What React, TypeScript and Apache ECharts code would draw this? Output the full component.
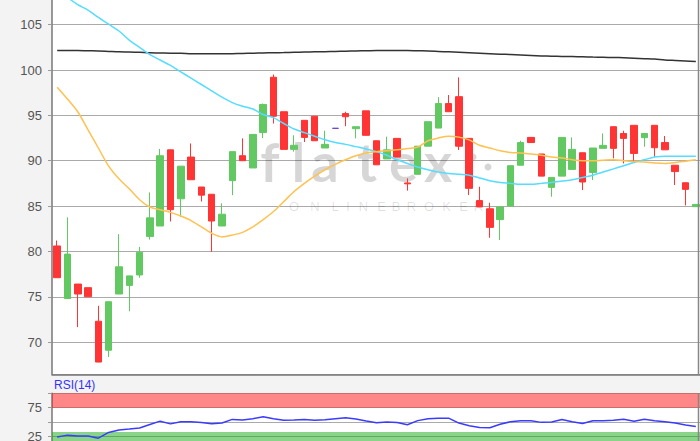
import React, { useEffect, useRef } from 'react';
import * as echarts from 'echarts';

const categories = [
  '1','2','3','4','5','6','7','8','9','10','11','12','13','14','15','16','17','18','19','20','21',
  '22','23','24','25','26','27','28','29','30','31','32','33','34','35','36','37','38','39','40','41','42',
  '43','44','45','46','47','48','49','50','51','52','53','54','55','56','57','58','59','60','61','62','63',
];

const opens = [
  80.6, 74.8, 76.4, 76.0, 72.3, 69.1, 75.3, 76.25, 77.4, 81.65, 82.8, 91.2, 85.8, 90.4, 87.1, 86.3,
  82.8, 87.8, 90.55, 89.2, 93.1, 99.2, 95.4, 91.25, 94.45, 94.9, 91.4, 93.57, 95.2, 93.53, 95.5, 92.2,
  90.2, 92.46, 87.55, 88.5, 91.6, 93.6, 96.3, 97.06, 92.46, 85.6, 84.7, 83.5, 85.0, 89.5, 92.57, 90.74,
  87.06, 88.3, 89.04, 90.88, 88.7, 91.36, 93.75, 93.0, 93.9, 92.54, 93.9, 92.0, 89.5, 87.57, 84.93,
];
const closes = [
  77.1, 79.7, 75.3, 75.0, 67.8, 74.45, 78.3, 77.3, 79.9, 83.7, 90.55, 84.6, 89.4, 87.9, 86.2, 83.35,
  84.1, 91.0, 90.0, 92.9, 96.2, 94.9, 91.25, 91.7, 92.57, 92.2, 91.8, 93.57, 94.85, 93.75, 92.8, 89.55,
  91.2, 90.4, 87.45, 91.6, 94.3, 96.3, 95.4, 91.6, 86.95, 84.9, 82.65, 84.9, 89.45, 92.0, 92.0, 88.3,
  88.16, 92.57, 91.25, 87.65, 91.4, 91.69, 91.36, 92.46, 90.8, 93.0, 91.43, 91.2, 88.8, 86.84, 85.18,
];
const lows = [
  77.1, 74.8, 71.65, 75.0, 67.8, 68.35, 75.3, 73.4, 77.1, 81.3, 82.8, 83.3, 83.8, 87.9, 85.5, 79.96,
  82.8, 86.2, 90.0, 89.2, 92.5, 94.1, 91.25, 91.0, 92.06, 92.2, 91.4, 93.57, 93.8, 92.46, 92.8, 89.55,
  90.2, 90.4, 86.7, 88.5, 91.6, 93.6, 95.4, 91.18, 86.21, 84.9, 81.5, 81.25, 85.0, 89.5, 92.0, 88.3,
  86.03, 88.3, 89.04, 86.76, 87.87, 91.36, 90.26, 89.7, 89.9, 91.54, 90.44, 91.2, 87.32, 85.07, 84.93,
];
const highs = [
  81.2, 83.75, 76.4, 76.0, 74.0, 74.45, 81.9, 77.3, 80.5, 86.5, 91.3, 91.2, 89.4, 91.9, 87.1, 86.3,
  85.3, 91.0, 92.46, 92.9, 96.3, 99.5, 95.4, 92.8, 94.45, 94.9, 93.3, 93.57, 95.4, 93.75, 95.5, 92.2,
  92.65, 92.46, 88.05, 91.6, 94.3, 97.0, 97.24, 99.19, 92.46, 87.13, 85.37, 84.9, 89.45, 92.2, 92.57, 90.74,
  88.16, 92.57, 92.57, 90.88, 91.4, 93.0, 93.75, 93.3, 93.9, 93.0, 93.9, 92.72, 89.5, 87.57, 85.18,
];

// moving averages
const ma20 = [
  98.1, 96.8, 95.4, 93.4, 91.4, 89.4, 88.0, 86.9, 85.7, 84.9, 84.6, 84.3, 83.9, 83.4, 82.7, 82.0,
  81.6, 81.8, 82.1, 82.7, 83.5, 84.4, 85.5, 86.6, 87.5, 88.3, 89.0, 89.6, 90.1, 90.55, 90.85, 91.0,
  91.1, 91.2, 91.35, 91.5, 92.2, 92.5, 92.7, 92.6, 92.3, 91.7, 91.4, 91.1, 90.9, 90.85, 90.75, 90.6,
  90.4, 90.3, 90.1, 90.0, 90.0, 90.05, 90.1, 90.0, 89.9, 89.85, 89.75, 89.7, 89.8, 89.95, 90.1,
];
const ma50 = [
  108.8, 108.0, 107.2, 106.6, 105.8, 105.05, 104.3, 103.3, 102.5, 101.7, 101.1, 100.5, 99.8, 99.1, 98.4, 97.7,
  97.0, 96.4, 96.0, 95.7, 95.1, 94.75, 94.1, 93.5, 93.1, 92.7, 92.3, 92.0, 91.8, 91.55, 91.3, 91.0,
  90.6, 90.1, 89.7, 89.3, 89.0, 88.75, 88.6, 88.5, 88.4, 88.1, 87.8, 87.6, 87.5, 87.4, 87.4, 87.5,
  87.6, 87.75, 87.9, 88.15, 88.4, 88.75, 89.1, 89.45, 89.8, 90.1, 90.4, 90.5, 90.5, 90.5, 90.5,
];
const ma200 = [
  102.15, 102.15, 102.15, 102.12, 102.1, 102.05, 102.0, 101.98, 101.95, 101.9, 101.88, 101.85, 101.85, 101.8, 101.8, 101.78,
  101.78, 101.8, 101.82, 101.85, 101.88, 101.9, 101.92, 101.95, 101.98, 102.0, 102.02, 102.05, 102.08, 102.1, 102.12, 102.15,
  102.15, 102.15, 102.15, 102.12, 102.1, 102.05, 102.0, 101.95, 101.9, 101.85, 101.8, 101.75, 101.7, 101.65, 101.6, 101.55,
  101.52, 101.5, 101.48, 101.45, 101.42, 101.4, 101.38, 101.35, 101.3, 101.25, 101.2, 101.1, 101.05, 101.0, 100.95,
];
const rsi14 = [
  24.4, 27.7, 26.3, 26.3, 22.5, 32.3, 36.7, 38.1, 40.0, 46.1, 51.8, 47.1, 50.9, 50.9, 49.6, 47.5,
  48.5, 54.8, 53.7, 56.1, 59.4, 56.1, 53.3, 53.7, 54.6, 53.3, 54.2, 56.1, 57.7, 55.6, 52.1, 49.2,
  50.4, 49.4, 45.7, 52.7, 55.8, 56.7, 57.0, 48.5, 43.8, 40.9, 40.5, 46.6, 50.7, 52.7, 52.3, 49.7,
  50.4, 54.6, 50.9, 47.6, 52.6, 52.6, 53.5, 55.0, 51.8, 55.1, 52.5, 50.7, 48.5, 45.2, 42.4,
];

const priceTicks = [70, 75, 80, 85, 90, 95, 100, 105];
const rsiTicks = [25, 75];
const rsiOverbought = [75, 100];
const rsiOversold = [0, 33];

const GREEN = '#62c962';
const RED = '#ff3434';
const WM = 'rgba(0,0,0,0.16)';
const WM2 = 'rgba(0,0,0,0.12)';

export default function App() {
  const ref = useRef<HTMLDivElement>(null);
  useEffect(() => {
    const chart = echarts.init(ref.current!, null, { renderer: 'svg' });
    const candles = opens.map((o, i) => [o, closes[i], lows[i], highs[i]]);
    const wmBig = [
      ['f', 270], ['l', 298.5], ['a', 325], ['t', 367], ['e', 403.5], ['x', 438],
    ];
    const wmSmall = [
      ['O', 294], ['N', 315], ['L', 335], ['I', 348], ['N', 363.5], ['E', 381.5],
      ['B', 396], ['R', 411.5], ['O', 429], ['K', 446.5], ['E', 463.5], ['R', 478.5],
    ];
    const option: any = {
      animation: false,
      backgroundColor: '#f3f3f3',
      textStyle: { fontFamily: 'Liberation Sans, Arial, sans-serif' },
      grid: [
        { left: 52, top: -20.7, width: 649, height: 395, show: true, backgroundColor: '#ffffff', borderWidth: 0, outerBoundsMode: 'none', containLabel: false },
        { left: 52, top: 393.2, width: 649, height: 58, show: true, backgroundColor: '#ffffff', borderWidth: 0, outerBoundsMode: 'none', containLabel: false },
      ],
      xAxis: [
        {
          type: 'category', gridIndex: 0, data: categories, boundaryGap: true,
          axisLine: { show: true, lineStyle: { color: '#777', width: 1.5 } },
          axisTick: { show: false }, axisLabel: { show: false }, splitLine: { show: false },
        },
        {
          type: 'category', gridIndex: 1, data: categories, boundaryGap: true,
          axisLine: { show: false }, axisTick: { show: false }, axisLabel: { show: false }, splitLine: { show: false },
        },
      ],
      yAxis: [
        {
          type: 'value', gridIndex: 0, min: 66.45, max: 110, splitNumber: 9,
          axisLine: { show: true, lineStyle: { color: '#777', width: 1.5 } },
          axisTick: { show: true, length: 4, lineStyle: { color: '#999' } },
          axisLabel: {
            color: '#555', fontSize: 13, margin: 10,
            showMinLabel: false,
            formatter: (v: number) => (priceTicks.includes(v) ? String(v) : ''),
          },
          splitLine: { show: true, lineStyle: { color: '#aaa', width: 1.2 } },
        },
        {
          type: 'value', gridIndex: 1, min: 0, max: 100, interval: 25,
          axisLine: { show: true, lineStyle: { color: '#777', width: 1.5 } },
          axisTick: { show: true, length: 4, lineStyle: { color: '#999' } },
          axisLabel: {
            color: '#555', fontSize: 13, margin: 10,
            formatter: (v: number) => (rsiTicks.includes(v) ? String(v) : ''),
          },
          splitLine: { show: true, lineStyle: { color: '#aaa', width: 1.2 } },
        },
      ],
      series: [
        {
          type: 'candlestick', xAxisIndex: 0, yAxisIndex: 0, data: candles, barWidth: 7,
          itemStyle: {
            color: GREEN, color0: RED, borderColor: GREEN, borderColor0: RED,
            borderColorDoji: '#6a3fd6', borderWidth: 1,
          },
        },
        {
          type: 'line', xAxisIndex: 0, yAxisIndex: 0, data: ma200, symbol: 'none', smooth: 0.3,
          lineStyle: { color: '#333', width: 1.5 },
        },
        {
          type: 'line', xAxisIndex: 0, yAxisIndex: 0, data: ma50, symbol: 'none', smooth: 0.3,
          lineStyle: { color: '#55dcff', width: 1.5 },
        },
        {
          type: 'line', xAxisIndex: 0, yAxisIndex: 0, data: ma20, symbol: 'none', smooth: 0.3,
          lineStyle: { color: '#ffc14f', width: 1.5 },
        },
        {
          type: 'line', xAxisIndex: 1, yAxisIndex: 1, data: rsi14, symbol: 'none',
          lineStyle: { color: '#3b3bff', width: 1.5 },
          markArea: {
            silent: true,
            data: [
              [{ yAxis: rsiOverbought[0], itemStyle: { color: 'rgba(255,0,0,0.47)' } }, { yAxis: rsiOverbought[1] }],
              [{ yAxis: rsiOversold[0], itemStyle: { color: 'rgba(20,170,20,0.5)' } }, { yAxis: rsiOversold[1] }],
            ],
          },
        },
      ],
      graphic: [
        ...wmBig.map(([ch, x]) => ({
          type: 'text', z: 1, x, y: 161,
          style: { text: ch, fontSize: 54, fontWeight: 'bold', fontFamily: 'Lato, sans-serif', fill: WM, align: 'center', verticalAlign: 'middle' },
        })),
        { type: 'circle', z: 1, shape: { cx: 473, cy: 157, r: 3.5 }, style: { fill: WM } },
        { type: 'circle', z: 1, shape: { cx: 488, cy: 167, r: 3.5 }, style: { fill: WM } },
        ...wmSmall.map(([ch, x]) => ({
          type: 'text', z: 1, x, y: 206,
          style: { text: ch, fontSize: 13, fontFamily: 'Liberation Sans, Arial, sans-serif', fill: WM2, align: 'center', verticalAlign: 'middle' },
        })),
        {
          type: 'line', z: 10, shape: { x1: 698.5, y1: 0, x2: 698.5, y2: 374.5 },
          style: { stroke: '#888', lineWidth: 1.5 },
        },
        {
          type: 'line', z: 10, shape: { x1: 698.5, y1: 393, x2: 698.5, y2: 441 },
          style: { stroke: '#888', lineWidth: 1.5 },
        },
        {
          type: 'text', z: 10, x: 54, y: 385,
          style: { text: 'RSI(14)', fontSize: 12, fontFamily: 'Liberation Sans, Arial, sans-serif', fill: '#3333ff', align: 'left', verticalAlign: 'middle' },
        },
      ],
    };
    chart.setOption(option);
    return () => chart.dispose();
  }, []);
  return <div ref={ref} style={{ position: 'fixed', left: 0, top: 0, width: 700, height: 441 }} />;
}
